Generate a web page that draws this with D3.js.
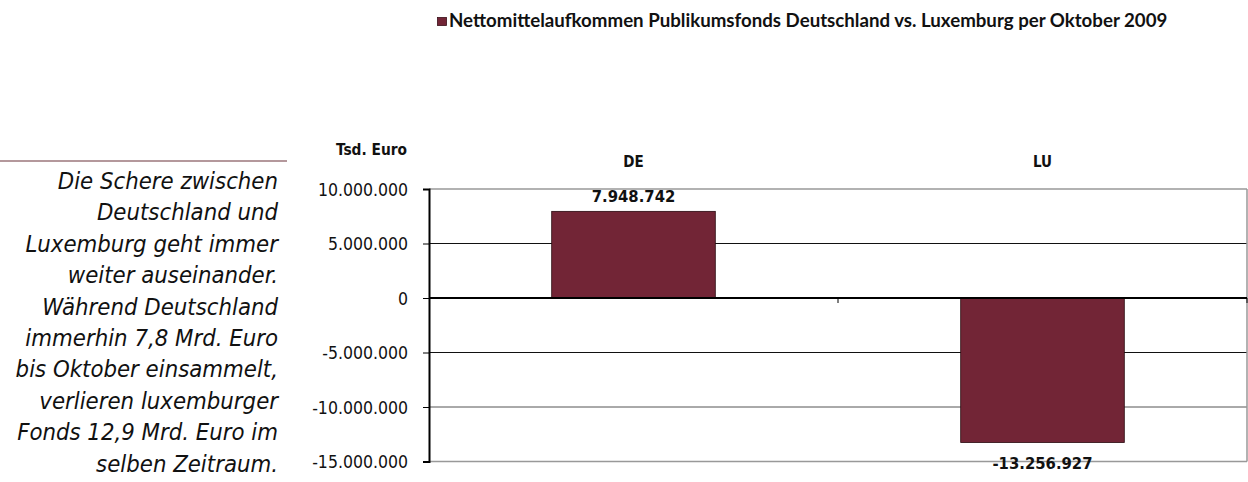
<!DOCTYPE html>
<html>
<head>
<meta charset="utf-8">
<script src="https://cdn.jsdelivr.net/npm/d3@7"></script>
<style>
  body { margin: 0; background: #fff; }
  svg { display: block; }
  .sans { font-family: 'DejaVu Sans Condensed', 'DejaVu Sans', sans-serif; font-stretch: condensed; }
</style>
</head>
<body>
<div id="chart"></div>
<script>
const categories = ['DE', 'LU'];
const values = [7948742, -13256927];
const yTicks = [10000000, 5000000, 0, -5000000, -10000000, -15000000];
const seriesName = 'Nettomittelaufkommen Publikumsfonds Deutschland vs. Luxemburg per Oktober 2009';
const unitLabel = 'Tsd. Euro';
const noteLines = [
  'Die Schere zwischen',
  'Deutschland und',
  'Luxemburg geht immer',
  'weiter auseinander.',
  'Während Deutschland',
  'immerhin 7,8 Mrd. Euro',
  'bis Oktober einsammelt,',
  'verlieren luxemburger',
  'Fonds 12,9 Mrd. Euro im',
  'selben Zeitraum.',
];

const WIDTH = 1248;
const HEIGHT = 482;
const barColor = '#722536';

const locale = d3.formatLocale({
  decimal: ',',
  thousands: '.',
  grouping: [3],
  currency: ['', ' €'],
  minus: '-',
});
const fmt = locale.format(',d');

// scale font-size so that the text ends up with the given width
const fitWidth = (sel, target) => {
  const w = sel.node().getComputedTextLength();
  const fs = parseFloat(sel.attr('font-size'));
  sel.attr('font-size', (fs * target) / w);
};

const svg = d3
  .select('#chart')
  .append('svg')
  .attr('width', WIDTH)
  .attr('height', HEIGHT);

const plot = { left: 429, right: 1247, top: 189, bottom: 461.5 };

const x = d3
  .scaleBand()
  .domain(categories)
  .range([plot.left, plot.right])
  .paddingInner(0.6)
  .paddingOuter(0.3);

const y = d3
  .scaleLinear()
  .domain([d3.min(yTicks), d3.max(yTicks)])
  .range([plot.bottom, plot.top]);

// legend / title
svg
  .append('rect')
  .attr('x', 437.5)
  .attr('y', 17.5)
  .attr('width', 9)
  .attr('height', 8)
  .attr('fill', barColor)
  .attr('stroke', '#3a1019')
  .attr('stroke-width', 0.8);

const title = svg
  .append('text')
  .attr('x', 449)
  .attr('y', 27)
  .attr('font-family', 'Lato, sans-serif')
  .attr('font-weight', 'bold')
  .attr('font-size', 13)
  .attr('fill', '#111')
  .text(seriesName);
fitWidth(title, 719);

// side note
svg
  .append('line')
  .attr('x1', 0)
  .attr('x2', 287)
  .attr('y1', 161)
  .attr('y2', 161)
  .attr('stroke', '#b4989c')
  .attr('stroke-width', 2);

const note = svg
  .append('g')
  .attr('class', 'sans')
  .attr('font-style', 'italic')
  .attr('text-anchor', 'end')
  .attr('fill', '#111');

const noteText = note
  .selectAll('text')
  .data(noteLines)
  .join('text')
  .attr('x', 278)
  .attr('y', (_, i) => 189 + i * 31.4)
  .attr('font-size', 18)
  .text((d) => d);

const probe = noteText.filter((d) => d === 'Fonds 12,9 Mrd. Euro im');
fitWidth(probe, 261);
noteText.attr('font-size', probe.attr('font-size'));

// grid lines
const gridColor = (d) =>
  d === 10000000 || d === -15000000 ? '#999' : d === -10000000 ? '#555' : '#111';

svg
  .append('g')
  .selectAll('line')
  .data(yTicks.filter((d) => d !== 0))
  .join('line')
  .attr('x1', plot.left)
  .attr('x2', plot.right)
  .attr('y1', (d) => y(d))
  .attr('y2', (d) => y(d))
  .attr('stroke', gridColor)
  .attr('stroke-width', (d) => (d === -15000000 || d === 10000000 ? 1.5 : 1));

// right border of plot area
svg
  .append('line')
  .attr('x1', plot.right)
  .attr('x2', plot.right)
  .attr('y1', plot.top)
  .attr('y2', plot.bottom)
  .attr('stroke', '#999')
  .attr('stroke-width', 1.5);

// bars
svg
  .append('g')
  .selectAll('rect')
  .data(values)
  .join('rect')
  .attr('x', (_, i) => x(categories[i]))
  .attr('width', x.bandwidth())
  .attr('y', (d) => y(Math.max(0, d)))
  .attr('height', (d) => Math.abs(y(d) - y(0)))
  .attr('fill', barColor)
  .attr('stroke', '#2a0a10')
  .attr('stroke-width', 0.8);

// zero line
svg
  .append('line')
  .attr('x1', plot.left)
  .attr('x2', plot.right)
  .attr('y1', y(0))
  .attr('y2', y(0))
  .attr('stroke', '#000')
  .attr('stroke-width', 2);

// category tick marks on the zero line
svg
  .append('g')
  .selectAll('line')
  .data([plot.left + x.step(), plot.right])
  .join('line')
  .attr('x1', (d) => d)
  .attr('x2', (d) => d)
  .attr('y1', y(0))
  .attr('y2', y(0) + 5)
  .attr('stroke', '#000')
  .attr('stroke-width', 1);

// y axis
const yAxis = d3
  .axisLeft(y)
  .tickValues(yTicks)
  .tickFormat(fmt)
  .tickSize(6)
  .tickPadding(15);

const yAxisG = svg
  .append('g')
  .attr('class', 'sans')
  .attr('transform', `translate(${plot.left}, 0)`)
  .call(yAxis);

yAxisG.attr('font-family', null);
yAxisG.select('.domain').attr('stroke', '#000').attr('stroke-width', 2);
yAxisG.selectAll('.tick line').attr('stroke', '#000');
yAxisG
  .selectAll('.tick text')
  .attr('font-size', 17.5)
  .attr('fill', '#111')
  .attr('dy', '0.36em');

// unit label
const unit = svg
  .append('text')
  .attr('class', 'sans')
  .attr('x', 371.5)
  .attr('y', 155)
  .attr('text-anchor', 'middle')
  .attr('font-weight', 'bold')
  .attr('font-size', 13)
  .attr('fill', '#111')
  .text(unitLabel);
fitWidth(unit, 71);

// category labels at top
svg
  .append('g')
  .attr('class', 'sans')
  .selectAll('text')
  .data(categories)
  .join('text')
  .attr('x', (d) => x(d) + x.bandwidth() / 2)
  .attr('y', 167)
  .attr('text-anchor', 'middle')
  .attr('font-weight', 'bold')
  .attr('font-size', 15)
  .attr('fill', '#111')
  .text((d) => d);

// value labels
svg
  .append('g')
  .attr('class', 'sans')
  .selectAll('text')
  .data(values)
  .join('text')
  .attr('x', (_, i) => x(categories[i]) + x.bandwidth() / 2)
  .attr('y', (d) => (d >= 0 ? y(d) - 9 : y(d) + 26))
  .attr('text-anchor', 'middle')
  .attr('font-weight', 'bold')
  .attr('font-size', 16.5)
  .attr('fill', '#111')
  .text((d) => fmt(d));
</script>
</body>
</html>
